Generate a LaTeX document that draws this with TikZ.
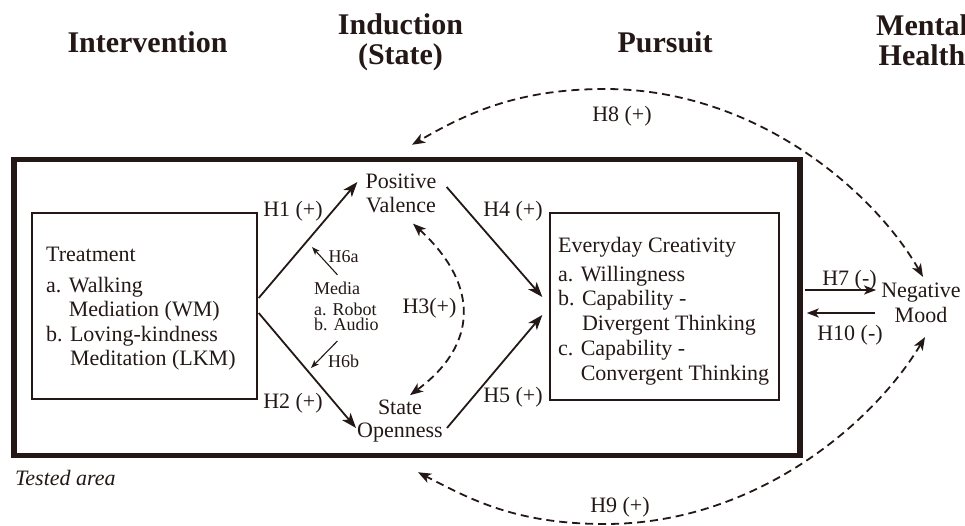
\documentclass[tikz,border=0pt]{standalone}
\usepackage{fontspec}
\setmainfont{Liberation Serif}
\usetikzlibrary{arrows.meta,calc}
\definecolor{ink}{RGB}{35,24,21}
\begin{document}
\begin{tikzpicture}[x=1pt,y=-1pt,
  every node/.style={inner sep=0pt, text=ink},
  body/.style={font=\fontsize{22}{24}\selectfont},
  small/.style={font=\fontsize{18}{21}\selectfont},
  head/.style={font=\fontsize{30}{30}\selectfont\bfseries, align=center},
  box/.style={draw=ink, line width=1.4pt},
  arr/.style={draw=ink, line width=1.8pt, -{Stealth[length=15pt,width=11pt,inset=4pt]}},
  thinarr/.style={draw=ink, line width=1.1pt, -{Stealth[length=8pt,width=6pt,inset=2pt]}},
  medarr/.style={draw=ink, line width=1.6pt, -{Stealth[length=12pt,width=9pt,inset=3pt]}},
  dasharr/.style={draw=ink, line width=1.8pt, dash pattern=on 8pt off 5pt,
    {Stealth[length=13pt,width=10pt,inset=3.5pt]}-{Stealth[length=13pt,width=10pt,inset=3.5pt]}}
]
\useasboundingbox (0,0) rectangle (965,526);

% column headings
\node[head] (hint) at (147.5,42.6) {Intervention};
\node[head] (hind) at (400.5,42.7) {Induction\\(State)};
\node[head] (hpur) at (665,42.6) {Pursuit};
\node[head] (hmen) at (922,40) {Mental\\Health};

% tested area frame
\node[draw=ink, line width=5.5pt, minimum width=786pt, minimum height=296pt] (tested) at (407,307.5) {};
\node[body, anchor=base west] (tarea) at (15,485) {\itshape Tested area};

% treatment box
\node[box, minimum width=225pt, minimum height=186pt] (treat) at (144.5,306) {};
\node[body, align=left, anchor=west, font=\fontsize{22}{24.4}\selectfont] (treattxt) at (46,308.8)
  {Treatment\\[6.6pt]a. Walking\\\hphantom{a. }Mediation (WM)\\b. Loving-kindness\\\hphantom{b. }Meditation (LKM)};

% everyday creativity box
\node[box, minimum width=229pt, minimum height=187pt] (ec) at (664.5,306.5) {};
\node[body, align=left, anchor=west, font=\fontsize{22}{24.75}\selectfont] (ectxt) at (558,310.9)
  {Everyday Creativity\\[4.25pt]a. Willingness\\b. Capability -\\\hphantom{b. }Divergent Thinking\\c. Capability -\\\hphantom{c. }Convergent Thinking};

% state variables
\node[body, align=center] (pv) at (401,193) {Positive\\Valence};
\node[body, align=center, font=\fontsize{22}{23}\selectfont] (so) at (400,421.5) {State\\Openness};
\node[body, align=center, font=\fontsize{22}{25}\selectfont] (nm) at (921,303) {Negative\\Mood};
\node[small, align=left, anchor=west] (media) at (314,306.4) {Media\\a. Robot\\[-6pt]b. Audio};

% moderation targets
\coordinate (h6a) at (312,247);
\coordinate (h6b) at (311,368);

% paths
\draw[arr] ($(treat.east)+(1,-8)$) -- ($(pv.west)+(-8,-11)$);
\draw[arr] ($(treat.east)+(1,7)$) -- ($(so.west)+(-1,6.5)$);
\draw[arr] ($(pv.east)+(10,-6)$) -- ($(ec.west)+(-7,-9.5)$);
\draw[arr] ($(so.east)+(4,6.5)$) -- ($(ec.west)+(-7,8.5)$);
\draw[dasharr] ($(pv.south)+(12,11)$) .. controls (480,285) and (478,345) .. ($(so.north)+(10,-5)$);
\draw[thinarr] ($(media.north)+(-9,-7)$) -- (h6a);
\draw[thinarr] ($(media.south)+(-9,10)$) -- (h6b);
\draw[medarr] ($(tested.east)+(2,-17.5)$) -- ($(nm.west)+(-5,-13)$);
\draw[medarr] ($(nm.west)+(-6,10)$) -- ($(tested.east)+(4,5.5)$);
\draw[dasharr] ($(nm.north)+(2,-6)$) .. controls (873,190) and (755,89) .. (605,89)
  .. controls (515,89) and (464,115) .. ($(tested.north)+(5,-12)$);
\draw[dasharr] ($(nm.south)+(4,14)$) .. controls (873,424) and (755,524) .. (605,524)
  .. controls (515,524) and (470,499) .. ($(tested.south)+(11,14)$);

% path labels
\node[body, anchor=base] (lh1) at (293,217) {H1 (+)};
\node[body, anchor=base] (lh2) at (293,408) {H2 (+)};
\node[body, anchor=base] (lh4) at (513,217) {H4 (+)};
\node[body, anchor=base] (lh5) at (513,402) {H5 (+)};
\node[body, anchor=base] (lh3) at (429.5,313) {H3(+)};
\node[small, anchor=base] (lh6a) at (343.5,262) {H6a};
\node[small, anchor=base] (lh6b) at (343.5,367) {H6b};
\node[body, anchor=base] (lh7) at (849.5,285) {H7 (-)};
\node[body, anchor=base] (lh10) at (850,340) {H10 (-)};
\node[body, anchor=base] (lh8) at (622,122) {H8 (+)};
\node[body, anchor=base] (lh9) at (620,512) {H9 (+)};
\end{tikzpicture}
\end{document}
